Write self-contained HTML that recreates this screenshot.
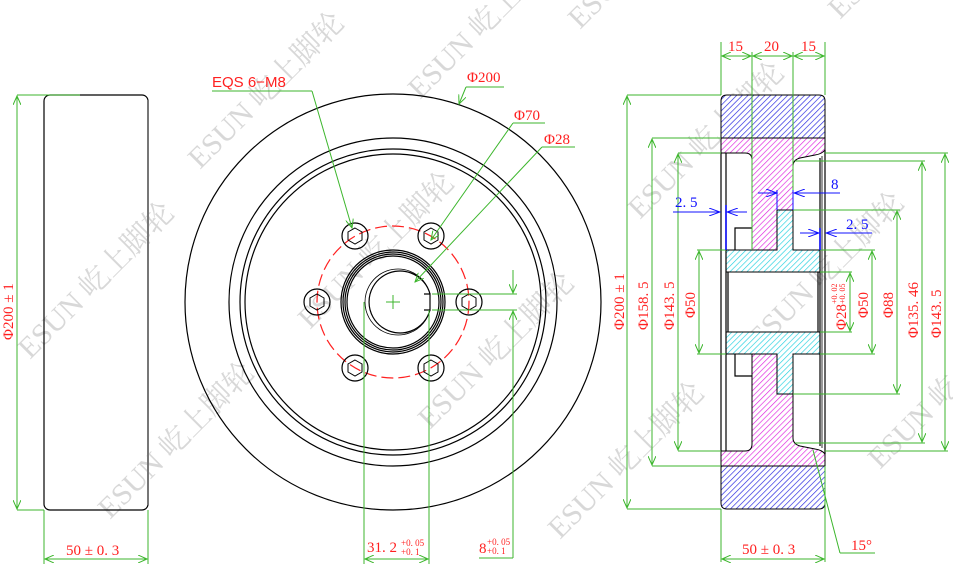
<!DOCTYPE html>
<html><head><meta charset="utf-8"><style>
html,body{margin:0;padding:0;background:#fff;}
svg{display:block;}
.r{fill:#ff2020;font-family:"Liberation Serif","Noto Serif CJK SC",serif;font-size:15px;}
.b{fill:#1010ff;font-family:"Liberation Serif",serif;font-size:15px;}
.g{stroke:#3cb62c;stroke-width:1;fill:none;}
.k{stroke:#000;stroke-width:1.2;fill:none;}
.wm{fill:#d8d8d8;font-family:"Liberation Serif","Noto Serif CJK SC",serif;font-size:30px;}
</style></head><body>
<svg width="953" height="579" viewBox="0 0 953 579" xmlns="http://www.w3.org/2000/svg">
<defs>
<pattern id="hb" width="4" height="4" patternUnits="userSpaceOnUse" patternTransform="rotate(45)"><rect width="4" height="4" fill="#fff"/><line x1="0" y1="0" x2="0" y2="4" stroke="#2020e0" stroke-width="1.3"/></pattern>
<pattern id="hm" width="4" height="4" patternUnits="userSpaceOnUse" patternTransform="rotate(45)"><rect width="4" height="4" fill="#fff"/><line x1="0" y1="0" x2="0" y2="4" stroke="#e020e0" stroke-width="1.3"/></pattern>
<pattern id="hc" width="4" height="4" patternUnits="userSpaceOnUse" patternTransform="rotate(45)"><rect width="4" height="4" fill="#fff"/><line x1="0" y1="0" x2="0" y2="4" stroke="#20d0e0" stroke-width="1.3"/></pattern>
<marker id="a" markerWidth="10" markerHeight="8" refX="9" refY="4" orient="auto-start-reverse" markerUnits="userSpaceOnUse"><path d="M0,0 L9,4 L0,8" fill="none" stroke="#3cb62c"/></marker>
<marker id="ab" markerWidth="12" markerHeight="8" refX="11" refY="4" orient="auto-start-reverse" markerUnits="userSpaceOnUse"><path d="M0,0 L11,4 L0,8" fill="none" stroke="#1010ff"/></marker>
</defs>

<g>
<text class="wm" transform="translate(30,360) rotate(-45)">ESUN 屹上脚轮</text>
<text class="wm" transform="translate(110,520) rotate(-45)">ESUN 屹上脚轮</text>
<text class="wm" transform="translate(200,170) rotate(-45)">ESUN 屹上脚轮</text>
<text class="wm" transform="translate(310,330) rotate(-45)">ESUN 屹上脚轮</text>
<text class="wm" transform="translate(430,430) rotate(-45)">ESUN 屹上脚轮</text>
<text class="wm" transform="translate(560,540) rotate(-45)">ESUN 屹上脚轮</text>
<text class="wm" transform="translate(420,100) rotate(-45)">ESUN 屹上脚轮</text>
<text class="wm" transform="translate(640,220) rotate(-45)">ESUN 屹上脚轮</text>
<text class="wm" transform="translate(760,350) rotate(-45)">ESUN 屹上脚轮</text>
<text class="wm" transform="translate(880,470) rotate(-45)">ESUN 屹上脚轮</text>
<text class="wm" transform="translate(840,20) rotate(-45)">ESUN 屹上脚轮</text>
<text class="wm" transform="translate(580,30) rotate(-45)">ESUN 屹上脚轮</text>
</g>

<!-- LEFT VIEW -->
<rect x="44" y="95" width="104" height="415" rx="6" class="k"/>
<line x1="148" y1="100" x2="148" y2="505" stroke="#777" stroke-width="2"/>
<line class="g" x1="17" y1="95" x2="80" y2="95"/>
<line class="g" x1="17" y1="510" x2="44" y2="510"/>
<line class="g" x1="17" y1="96" x2="17" y2="509" marker-start="url(#a)" marker-end="url(#a)"/>
<text class="r" transform="translate(13,340) rotate(-90)">Φ200 ± 1</text>
<line class="g" x1="44" y1="510" x2="44" y2="564"/>
<line class="g" x1="148" y1="510" x2="148" y2="564"/>
<line class="g" x1="45" y1="559" x2="147" y2="559" marker-start="url(#a)" marker-end="url(#a)"/>
<text class="r" x="66" y="555">50 ± 0. 3</text>

<!-- FRONT VIEW -->
<g class="k">
<circle cx="393" cy="302" r="208"/>
<circle cx="393" cy="302" r="164"/>
<circle cx="393" cy="302" r="153"/>
<circle cx="393" cy="302" r="148"/>
<circle cx="393" cy="302" r="52"/>
<circle cx="393" cy="302" r="50"/>
<circle cx="393" cy="302" r="48"/>
<circle cx="393" cy="302" r="46"/>
<path d="M430,294 A31,31 0 1 0 430,310"/>
<path d="M430,294 A33,33 0 1 0 430,310" stroke-width="0.8"/>
<path d="M424,294 L430,294 L430,310 L424,310"/>
</g>
<circle cx="393" cy="302" r="76" fill="none" stroke="#ff2020" stroke-width="1.2" stroke-dasharray="12,5"/>
<g stroke="#3cb62c"><line x1="386" y1="302" x2="400" y2="302"/><line x1="393" y1="295" x2="393" y2="309"/></g>
<g class="k">
<circle cx="469" cy="302" r="13"/><polygon points="469,294 476,298 476,306 469,310 462,306 462,298" stroke-width="1"/>
<circle cx="431" cy="236" r="13"/><polygon points="431,228 438,232 438,240 431,244 424,240 424,232" stroke-width="1"/>
<circle cx="355" cy="236" r="13"/><polygon points="355,228 362,232 362,240 355,244 348,240 348,232" stroke-width="1"/>
<circle cx="317" cy="302" r="13"/><polygon points="317,294 324,298 324,306 317,310 310,306 310,298" stroke-width="1"/>
<circle cx="355" cy="368" r="13"/><polygon points="355,360 362,364 362,372 355,376 348,372 348,364" stroke-width="1"/>
<circle cx="431" cy="368" r="13"/><polygon points="431,360 438,364 438,372 431,376 424,372 424,364" stroke-width="1"/>
</g>
<text x="212" y="87" style="fill:#ff2020;font-family:'Liberation Sans',sans-serif;font-size:15px;">EQS 6−M8</text>
<line class="g" x1="212" y1="91" x2="312" y2="91"/>
<line class="g" x1="312" y1="91" x2="352" y2="228" marker-end="url(#a)"/>
<text class="r" x="467" y="82">Φ200</text>
<line class="g" x1="466" y1="87" x2="504" y2="87"/>
<line class="g" x1="466" y1="87" x2="459" y2="104" marker-end="url(#a)"/>
<text class="r" x="514" y="120">Φ70</text>
<line class="g" x1="513" y1="123" x2="545" y2="123"/>
<line class="g" x1="513" y1="123" x2="431" y2="240" marker-end="url(#a)"/>
<text class="r" x="544" y="144">Φ28</text>
<line class="g" x1="542" y1="147" x2="575" y2="147"/>
<line class="g" x1="542" y1="147" x2="415" y2="282" marker-end="url(#a)"/>
<line class="g" x1="364" y1="302" x2="364" y2="564"/>
<line class="g" x1="429" y1="310" x2="429" y2="564"/>
<line class="g" x1="365" y1="559" x2="428" y2="559" marker-start="url(#a)" marker-end="url(#a)"/>
<text class="r" x="367" y="552">31. 2</text>
<text class="r" x="401" y="546" style="font-size:9px">+0. 05</text>
<text class="r" x="401" y="555" style="font-size:9px">+0. 1</text>
<line class="g" x1="432" y1="294" x2="517" y2="294"/>
<line class="g" x1="432" y1="310" x2="517" y2="310"/>
<line class="g" x1="513" y1="270" x2="513" y2="293" marker-end="url(#a)"/>
<line class="g" x1="513" y1="558" x2="513" y2="311" marker-end="url(#a)"/>
<line class="g" x1="479" y1="558" x2="513" y2="558"/>
<text class="r" x="479" y="553">8</text>
<text class="r" x="487" y="545" style="font-size:9px">+0. 05</text>
<text class="r" x="487" y="554" style="font-size:9px">+0. 1</text>

<!-- RIGHT SECTION -->
<path d="M721,138 L721,101 Q721,95 727,95 L819,95 Q825,95 825,101 L825,138 Z" fill="url(#hb)" stroke="#000"/>
<path d="M721,466 L721,503 Q721,509 727,509 L819,509 Q825,509 825,503 L825,466 Z" fill="url(#hb)" stroke="#000"/>
<path d="M721,138 L825,138 L825,150 Q822,154 815,155 L800,158 Q793,160 793,166 L793,210 L777,210 L777,250 L752,250 L752,160 Q752,153 745,153 L721,153 Z" fill="url(#hm)" stroke="#000"/>
<path d="M721,466 L825,466 L825,454 Q822,450 815,449 L800,446 Q793,444 793,438 L793,394 L777,394 L777,354 L752,354 L752,444 Q752,451 745,451 L721,451 Z" fill="url(#hm)" stroke="#000"/>
<path d="M777,210 L793,210 L793,250 L820,250 L820,272 L726,272 L726,250 L777,250 Z" fill="url(#hc)" stroke="#000"/>
<path d="M777,394 L793,394 L793,354 L820,354 L820,332 L726,332 L726,354 L777,354 Z" fill="url(#hc)" stroke="#000"/>
<g class="k" stroke-width="1">
<line x1="726" y1="153" x2="726" y2="451"/>
<line x1="721" y1="153" x2="721" y2="451"/>
<line x1="820" y1="158" x2="820" y2="446"/>
<line x1="822" y1="156" x2="822" y2="448" stroke="#555"/>
<line x1="825" y1="150" x2="825" y2="454"/>
<line x1="728" y1="272" x2="728" y2="332"/>
<line x1="818" y1="272" x2="818" y2="332"/>
<path d="M752,228 L735,228 L735,250"/>
<path d="M752,376 L735,376 L735,354"/>
</g>
<g class="g">
<line x1="721" y1="42" x2="721" y2="95"/><line x1="752" y1="52" x2="752" y2="250"/>
<line x1="793" y1="52" x2="793" y2="210"/><line x1="825" y1="42" x2="825" y2="95"/>
<line x1="722" y1="56" x2="751" y2="56" marker-start="url(#a)" marker-end="url(#a)"/>
<line x1="753" y1="56" x2="792" y2="56" marker-start="url(#a)" marker-end="url(#a)"/>
<line x1="794" y1="56" x2="824" y2="56" marker-start="url(#a)" marker-end="url(#a)"/>
</g>
<text class="r" x="728" y="51">15</text><text class="r" x="764" y="51">20</text><text class="r" x="801" y="51">15</text>
<g class="g">
<line x1="627" y1="95" x2="721" y2="95"/><line x1="627" y1="509" x2="721" y2="509"/>
<line x1="627" y1="96" x2="627" y2="508" marker-start="url(#a)" marker-end="url(#a)"/>
<line x1="652" y1="138" x2="721" y2="138"/><line x1="652" y1="466" x2="721" y2="466"/>
<line x1="652" y1="139" x2="652" y2="465" marker-start="url(#a)" marker-end="url(#a)"/>
<line x1="678" y1="153" x2="721" y2="153"/><line x1="678" y1="451" x2="721" y2="451"/>
<line x1="678" y1="154" x2="678" y2="450" marker-start="url(#a)" marker-end="url(#a)"/>
<line x1="697" y1="250" x2="726" y2="250"/><line x1="697" y1="354" x2="726" y2="354"/>
<line x1="699" y1="251" x2="699" y2="353" marker-start="url(#a)" marker-end="url(#a)"/>
<line x1="820" y1="272" x2="852" y2="272"/><line x1="820" y1="332" x2="852" y2="332"/>
<line x1="850" y1="273" x2="850" y2="331" marker-start="url(#a)" marker-end="url(#a)"/>
<line x1="820" y1="250" x2="875" y2="250"/><line x1="820" y1="354" x2="875" y2="354"/>
<line x1="872" y1="251" x2="872" y2="353" marker-start="url(#a)" marker-end="url(#a)"/>
<line x1="793" y1="210" x2="900" y2="210"/><line x1="793" y1="394" x2="900" y2="394"/>
<line x1="897" y1="211" x2="897" y2="393" marker-start="url(#a)" marker-end="url(#a)"/>
<line x1="795" y1="161" x2="925" y2="161"/><line x1="795" y1="443" x2="925" y2="443"/>
<line x1="922" y1="162" x2="922" y2="442" marker-start="url(#a)" marker-end="url(#a)"/>
<line x1="825" y1="153" x2="948" y2="153"/><line x1="825" y1="451" x2="948" y2="451"/>
<line x1="945" y1="154" x2="945" y2="450" marker-start="url(#a)" marker-end="url(#a)"/>
</g>
<text class="r" transform="translate(624,330) rotate(-90)">Φ200 ± 1</text>
<text class="r" transform="translate(648,330) rotate(-90)">Φ158. 5</text>
<text class="r" transform="translate(674,330) rotate(-90)">Φ143. 5</text>
<text class="r" transform="translate(695,318) rotate(-90)">Φ50</text>
<text class="r" transform="translate(846,330) rotate(-90)">Φ28</text>
<text class="r" transform="translate(837,304) rotate(-90)" style="font-size:8px">+0. 02</text>
<text class="r" transform="translate(845,304) rotate(-90)" style="font-size:8px">+0. 05</text>
<text class="r" transform="translate(868,318) rotate(-90)">Φ50</text>
<text class="r" transform="translate(893,318) rotate(-90)">Φ88</text>
<text class="r" transform="translate(918,338) rotate(-90)">Φ135. 46</text>
<text class="r" transform="translate(941,338) rotate(-90)">Φ143. 5</text>
<g stroke="#1010ff" stroke-width="1" fill="none">
<line x1="673" y1="212" x2="720" y2="212" marker-end="url(#ab)"/>
<line x1="747" y1="212" x2="727" y2="212" marker-end="url(#ab)"/>
<line x1="726" y1="205" x2="726" y2="250" stroke-width="1.6"/>
<line x1="758" y1="193" x2="777" y2="193" marker-end="url(#ab)"/>
<line x1="840" y1="193" x2="794" y2="193" marker-end="url(#ab)"/>
<line x1="777" y1="190" x2="777" y2="210"/><line x1="793" y1="190" x2="793" y2="210"/>
<line x1="800" y1="233" x2="819" y2="233" marker-end="url(#ab)"/>
<line x1="872" y1="233" x2="826" y2="233" marker-end="url(#ab)"/>
<line x1="820" y1="228" x2="820" y2="250" stroke-width="1.6"/>
</g>
<text class="b" x="675" y="207">2. 5</text>
<text class="b" x="831" y="189">8</text>
<text class="b" x="846" y="229">2. 5</text>
<line class="g" x1="813" y1="450" x2="840" y2="553"/>
<line class="g" x1="840" y1="553" x2="875" y2="553"/>
<text class="r" x="851" y="550">15°</text>
<line class="g" x1="721" y1="509" x2="721" y2="562"/>
<line class="g" x1="825" y1="466" x2="825" y2="562"/>
<line class="g" x1="722" y1="559" x2="824" y2="559" marker-start="url(#a)" marker-end="url(#a)"/>
<text class="r" x="742" y="554">50 ± 0. 3</text>
</svg>
</body></html>
